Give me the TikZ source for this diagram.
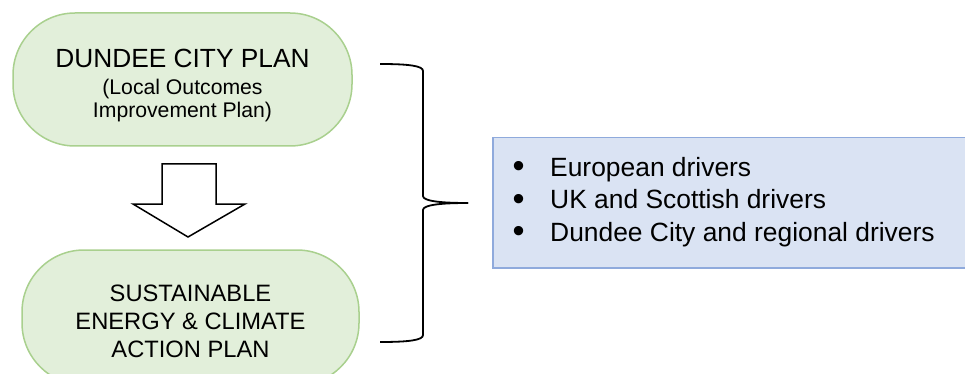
\documentclass[tikz,border=0pt]{standalone}
\usepackage{fontspec}
\setmainfont{Liberation Sans}
\usetikzlibrary{positioning}
\definecolor{planfill}{RGB}{226,239,218}
\definecolor{planline}{RGB}{169,208,142}
\definecolor{boxfill}{RGB}{218,227,243}
\definecolor{boxline}{RGB}{143,170,220}
\newcommand{\halfbrace}{\draw[line width=1.8pt] (0,0) .. controls (-28,0) and (-45,-2) .. (-45,-7)
					-- (-45,-132) .. controls (-45,-137) and (-58,-139) .. (-88,-139);}
\newcommand{\itemdot}{\makebox[37.5pt][l]{\raisebox{-1.5pt}{\scalebox{1.3}{\textbullet}}}}
\tikzset{
	plan/.style={draw=planline, fill=planfill, line width=1.5pt, rounded corners=62pt,
		align=center, inner sep=0pt},
	driverbox/.style={draw=boxline, fill=boxfill, line width=1.5pt},
	item/.style={inner sep=0pt, font=\fontsize{26.4}{32.5}\selectfont}
}

\begin{document}
\begin{tikzpicture}[x=1pt, y=-1pt]

					\clip (0,0) rectangle (965,374);
					\fill[white] (0,0) rectangle (965,374);

					\node[plan, minimum width=339pt, minimum height=133pt,
						font=\fontsize{21.2}{23.5}\selectfont] (cityplan) at (182.5,79.5)
						{{\fontsize{26.3}{26.3}\selectfont\rule{0pt}{30pt}DUNDEE CITY PLAN}\\[3.5pt]
						(Local Outcomes\\Improvement Plan)};

					\node[plan, minimum width=337pt, minimum height=135pt,
						font=\fontsize{23.7}{28}\selectfont] (secap) at (190.5,317.5)
						{\rule{0pt}{25pt}SUSTAINABLE\\ENERGY \& CLIMATE\\ACTION PLAN};

					% block arrow between the two plans
					\draw[line width=1.5pt, fill=white] (162,164) -- (216,164) -- (216,204) -- (245,204)
						-- (188,237) -- (133,204) -- (162,204) -- cycle;

					\node[driverbox, anchor=north west, minimum width=520pt, minimum height=130pt]
						(drivers) at (492,137) {};

					\node[item, anchor=base west] (european) at (512.5,176)
						{\itemdot European drivers};
					\node[item, anchor=base west] (national) at (512.5,208.5)
						{\itemdot UK and Scottish drivers};
					\node[item, anchor=base west] (regional) at (512.5,241)
						{\itemdot Dundee City and regional drivers};

					\begin{scope}[shift={(468,203)}]
						\halfbrace
					\end{scope}

					\begin{scope}[shift={(468,203)}, yscale=-1]
						\halfbrace
					\end{scope}

\end{tikzpicture}
\end{document}
